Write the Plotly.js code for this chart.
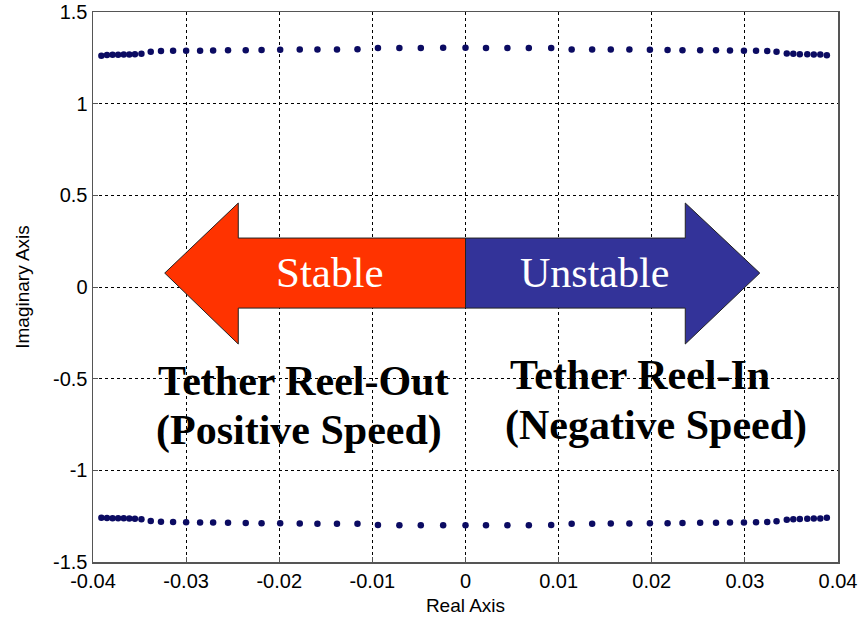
<!DOCTYPE html>
<html>
<head>
<meta charset="utf-8">
<script src="https://cdn.plot.ly/plotly-3.0.1.min.js"></script>
<style>html,body{margin:0;padding:0;background:#fff;}#chart{width:862px;height:621px;}</style>
</head>
<body>
<div id="chart"></div>
<script>
// Real parts of the poles (shared by both branches)
var realPart = [-0.0391,-0.0385,-0.0379,-0.0373,-0.0367,-0.0361,-0.0355,-0.0348,-0.0338,-0.0327,
  -0.0314,-0.0300,-0.0285,-0.0271,-0.0255,-0.0236,-0.0219,-0.0199,-0.0178,-0.0159,
  -0.0138,-0.0116,-0.0094,-0.0071,-0.0048,-0.0024,0.0000,0.0022,0.0045,0.0068,
  0.0092,0.0114,0.0136,0.0156,0.0176,0.0198,0.0217,0.0233,0.0252,0.0269,
  0.0284,0.0299,0.0312,0.0324,0.0334,0.0345,0.0352,0.0359,0.0367,0.0374,0.0381,0.0388];
// Imaginary parts, upper branch
var imagUpper = [1.262,1.266,1.267,1.267,1.268,1.268,1.269,1.272,1.283,1.287,
  1.288,1.289,1.289,1.290,1.291,1.292,1.293,1.294,1.295,1.296,
  1.296,1.297,1.303,1.304,1.304,1.305,1.305,1.304,1.304,1.304,
  1.303,1.296,1.296,1.295,1.295,1.294,1.293,1.292,1.291,1.291,
  1.290,1.289,1.288,1.287,1.283,1.274,1.272,1.270,1.269,1.268,1.268,1.264];
// Imaginary parts, lower branch
var imagLower = [-1.258,-1.260,-1.261,-1.262,-1.262,-1.263,-1.264,-1.267,-1.276,-1.280,
  -1.282,-1.283,-1.284,-1.285,-1.286,-1.287,-1.288,-1.289,-1.290,-1.291,
  -1.291,-1.292,-1.298,-1.299,-1.299,-1.300,-1.300,-1.299,-1.299,-1.299,
  -1.298,-1.291,-1.291,-1.290,-1.290,-1.289,-1.288,-1.287,-1.286,-1.286,
  -1.285,-1.284,-1.283,-1.282,-1.278,-1.269,-1.267,-1.265,-1.264,-1.263,-1.263,-1.259];

var xTickVals = [-0.04,-0.03,-0.02,-0.01,0,0.01,0.02,0.03,0.04];
var xTickText = ["-0.04","-0.03","-0.02","-0.01","0","0.01","0.02","0.03","0.04"];
var yTickVals = [-1.5,-1,-0.5,0,0.5,1,1.5];
var yTickText = ["-1.5","-1","-0.5","0","0.5","1","1.5"];

var markerStyle = {color:'#0b0b62', size:6.5};
var traces = [
  {x: realPart, y: imagUpper, mode:'markers', type:'scatter', marker: markerStyle, hoverinfo:'x+y'},
  {x: realPart, y: imagLower, mode:'markers', type:'scatter', marker: markerStyle, hoverinfo:'x+y'}
];

var tickFont = {family:'Liberation Sans, Arial, sans-serif', size:20, color:'#000'};
var axisCommon = {
  showgrid:true, gridcolor:'#000', gridwidth:1, griddash:'3px,3px',
  zeroline:false, showline:true, linecolor:'#555', linewidth:1.5, mirror:true,
  ticks:'inside', ticklen:5, tickcolor:'#555', tickfont: tickFont, tickmode:'array'
};

var serif = 'Liberation Serif, Times New Roman, serif';
function label(x, y, txt, size, color) {
  return {xref:'paper', yref:'paper', x:x, y:y, xanchor:'center', yanchor:'middle',
          text:txt, showarrow:false, font:{family:serif, size:size, color:color}};
}

var layout = {
  width:862, height:621,
  margin:{l:93, r:24, t:12, b:59},
  paper_bgcolor:'#fff', plot_bgcolor:'#fff',
  showlegend:false,
  xaxis: Object.assign({}, axisCommon, {
    range:[-0.04,0.04], tickvals:xTickVals, ticktext:xTickText,
    title:{text:'Real Axis', font:{family:'Liberation Sans, Arial, sans-serif', size:19, color:'#000'}, standoff:8}
  }),
  yaxis: Object.assign({}, axisCommon, {
    range:[-1.5,1.5], tickvals:yTickVals, ticktext:yTickText,
    title:{text:'Imaginary Axis', font:{family:'Liberation Sans, Arial, sans-serif', size:19, color:'#000'}, standoff:18}
  }),
  shapes:[
    {type:'path', xref:'x', yref:'y', layer:'above',
     path:'M 0,0.267 L -0.0244,0.267 L -0.0244,0.458 L -0.0323,0.076 L -0.0244,-0.311 L -0.0244,-0.115 L 0,-0.115 Z',
     fillcolor:'#ff3300', line:{color:'#222', width:1}},
    {type:'path', xref:'x', yref:'y', layer:'above',
     path:'M 0,0.267 L 0.0236,0.267 L 0.0236,0.458 L 0.0316,0.076 L 0.0236,-0.311 L 0.0236,-0.115 L 0,-0.115 Z',
     fillcolor:'#333399', line:{color:'#222', width:1}}
  ],
  annotations:[
    label(0.318, 0.5255, 'Stable', 43, '#fff'),
    label(0.6725, 0.5255, 'Unstable', 42, '#fff'),
    label(0.282, 0.329, '<b>Tether Reel-Out</b>', 42, '#000'),
    label(0.2765, 0.24, '<b>(Positive Speed)</b>', 42, '#000'),
    label(0.734, 0.34, '<b>Tether Reel-In</b>', 42, '#000'),
    label(0.756, 0.249, '<b>(Negative Speed)</b>', 42, '#000')
  ]
};

Plotly.newPlot('chart', traces, layout, {displayModeBar:false, staticPlot:true});
</script>
</body>
</html>
